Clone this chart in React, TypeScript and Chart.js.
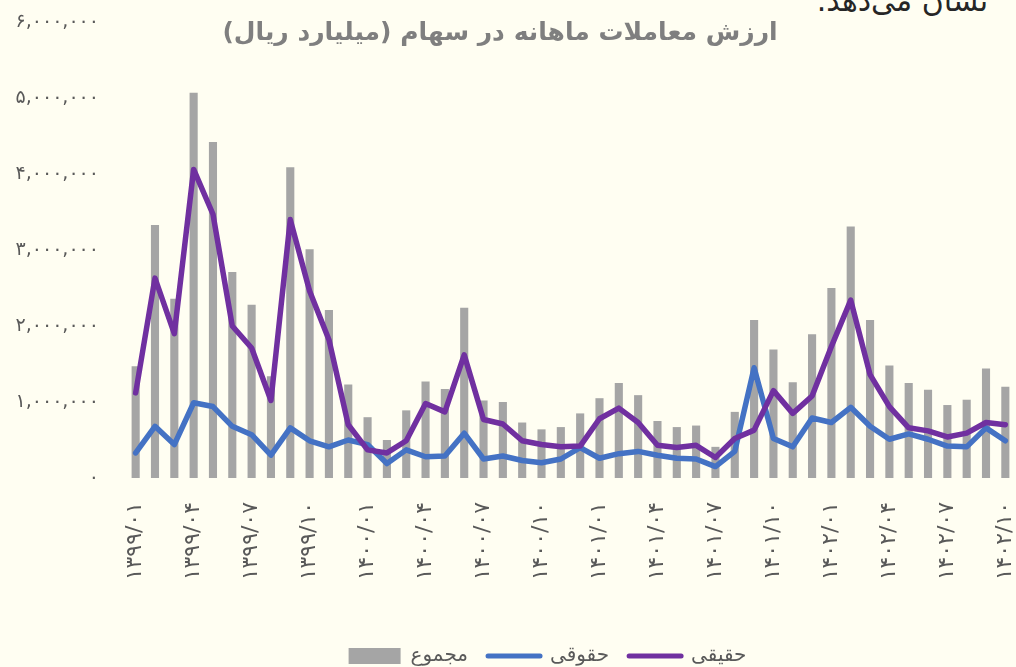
import React, { useEffect, useRef } from "react";
import { Chart, registerables } from "chart.js";

Chart.register(...registerables);

const FONT = '"DejaVu Sans", sans-serif';

const TITLE = "ارزش معاملات ماهانه در سهام (میلیارد ریال)";
const TOP_TEXT = "نشان می‌دهد.";

const months: string[] = [
  "۱۳۹۹/۰۱", "۱۳۹۹/۰۲", "۱۳۹۹/۰۳", "۱۳۹۹/۰۴", "۱۳۹۹/۰۵", "۱۳۹۹/۰۶",
  "۱۳۹۹/۰۷", "۱۳۹۹/۰۸", "۱۳۹۹/۰۹", "۱۳۹۹/۱۰", "۱۳۹۹/۱۱", "۱۳۹۹/۱۲",
  "۱۴۰۰/۰۱", "۱۴۰۰/۰۲", "۱۴۰۰/۰۳", "۱۴۰۰/۰۴", "۱۴۰۰/۰۵", "۱۴۰۰/۰۶",
  "۱۴۰۰/۰۷", "۱۴۰۰/۰۸", "۱۴۰۰/۰۹", "۱۴۰۰/۱۰", "۱۴۰۰/۱۱", "۱۴۰۰/۱۲",
  "۱۴۰۱/۰۱", "۱۴۰۱/۰۲", "۱۴۰۱/۰۳", "۱۴۰۱/۰۴", "۱۴۰۱/۰۵", "۱۴۰۱/۰۶",
  "۱۴۰۱/۰۷", "۱۴۰۱/۰۸", "۱۴۰۱/۰۹", "۱۴۰۱/۱۰", "۱۴۰۱/۱۱", "۱۴۰۱/۱۲",
  "۱۴۰۲/۰۱", "۱۴۰۲/۰۲", "۱۴۰۲/۰۳", "۱۴۰۲/۰۴", "۱۴۰۲/۰۵", "۱۴۰۲/۰۶",
  "۱۴۰۲/۰۷", "۱۴۰۲/۰۸", "۱۴۰۲/۰۹", "۱۴۰۲/۱۰",
];

// مجموع
const totalValues: number[] = [
  1470000, 3330000, 2360000, 5070000, 4420000, 2710000, 2280000, 1340000, 4090000, 3010000,
  2210000, 1230000, 800000, 500000, 890000, 1270000, 1170000, 2240000, 1020000, 1000000,
  730000, 640000, 670000, 850000, 1050000, 1250000, 1090000, 750000, 670000, 690000,
  410000, 870000, 2080000, 1690000, 1260000, 1890000, 2500000, 3310000, 2080000, 1480000,
  1250000, 1160000, 960000, 1030000, 1440000, 1200000,
];

// حقوقی
const legalValues: number[] = [
  330000, 680000, 440000, 990000, 940000, 680000, 570000, 300000, 660000, 490000,
  410000, 500000, 440000, 190000, 370000, 280000, 290000, 590000, 250000, 290000,
  230000, 200000, 250000, 400000, 260000, 320000, 350000, 300000, 260000, 250000,
  150000, 350000, 1450000, 520000, 410000, 790000, 730000, 930000, 680000, 510000,
  580000, 510000, 420000, 410000, 660000, 490000,
];

// حقیقی
const realValues: number[] = [
  1120000, 2630000, 1900000, 4060000, 3470000, 2000000, 1710000, 1020000, 3400000, 2460000,
  1820000, 700000, 370000, 330000, 490000, 980000, 870000, 1620000, 770000, 710000,
  490000, 440000, 410000, 420000, 780000, 920000, 730000, 430000, 400000, 430000,
  270000, 520000, 630000, 1150000, 850000, 1080000, 1730000, 2340000, 1360000, 940000,
  660000, 620000, 540000, 590000, 730000, 700000,
];

const seriesNames = ["مجموع", "حقوقی", "حقیقی"];
const yTickValues: number[] = [0, 1000000, 2000000, 3000000, 4000000, 5000000, 6000000];

const toFa = (s: string) => s.replace(/\d/g, (d) => "۰۱۲۳۴۵۶۷۸۹"[Number(d)]);

const titlePlugin = {
  id: "customTitle",
  afterDraw(chart: any) {
    const ctx = chart.ctx;
    ctx.save();
    ctx.font = `bold 25px ${FONT}`;
    ctx.fillStyle = "#7f7f7f";
    ctx.textAlign = "center";
    ctx.textBaseline = "middle";
    (ctx as any).direction = "rtl";
    ctx.fillText(TITLE, 500, 33);
    ctx.restore();
  },
};

const legendShiftPlugin = {
  id: "legendShift",
  afterLayout(chart: any) {
    const lg = chart.legend;
    if (lg) {
      lg.left += 40;
      lg.right += 40;
    }
  },
};

export default function App() {
  const canvasRef = useRef<HTMLCanvasElement | null>(null);

  useEffect(() => {
    if (!canvasRef.current) return;
    const chart = new Chart(canvasRef.current, {
      type: "bar",
      data: {
        labels: months,
        datasets: [
          {
            type: "bar",
            label: seriesNames[0],
            data: totalValues,
            backgroundColor: "#a5a5a5",
            categoryPercentage: 1,
            barPercentage: 0.42,
            order: 3,
          } as any,
          {
            type: "line",
            label: seriesNames[1],
            data: legalValues,
            borderColor: "#4472c4",
            backgroundColor: "#4472c4",
            borderWidth: 5.5,
            pointRadius: 0,
            tension: 0,
            borderJoinStyle: "round",
            borderCapStyle: "round",
            order: 2,
          } as any,
          {
            type: "line",
            label: seriesNames[2],
            data: realValues,
            borderColor: "#7030a0",
            backgroundColor: "#7030a0",
            borderWidth: 5.5,
            pointRadius: 0,
            tension: 0,
            borderJoinStyle: "round",
            borderCapStyle: "round",
            order: 1,
          } as any,
        ],
      },
      options: {
        animation: false,
        responsive: true,
        maintainAspectRatio: false,
        layout: { padding: { top: 22, right: 1, left: 0, bottom: 0 } },
        plugins: {
          title: { display: false },
          tooltip: { enabled: false },
          legend: {
            position: "bottom",
            labels: {
              usePointStyle: true,
              pointStyleWidth: 52,
              boxHeight: 16,
              padding: 20,
              color: "#595959",
              font: { size: 20, family: FONT },
              sort(a: any, b: any) {
                return a.datasetIndex - b.datasetIndex;
              },
              generateLabels(ch: any) {
                const items = (Chart.defaults.plugins.legend.labels as any).generateLabels(ch);
                return items.map((it: any) => {
                  const ds = ch.data.datasets[it.datasetIndex];
                  if (ds.type === "bar") {
                    return { ...it, pointStyle: "rect", lineWidth: 0, fillStyle: "#a5a5a5", strokeStyle: "#a5a5a5" };
                  }
                  return { ...it, pointStyle: "line", lineWidth: 5, strokeStyle: ds.borderColor, fillStyle: ds.borderColor, lineCap: "round" };
                });
              },
            },
          },
        },
        scales: {
          x: {
            grid: { display: false, drawTicks: false },
            border: { display: false },
            ticks: {
              autoSkip: false,
              minRotation: 90,
              maxRotation: 90,
              padding: 24,
              color: "#595959",
              font: { size: 22, family: FONT },
              callback(_v: any, i: number) {
                return i % 3 === 0 ? months[i] : "";
              },
            },
            afterFit(scale: any) {
              scale.height = 148;
              scale.paddingLeft = 0;
              scale.paddingRight = 0;
            },
          },
          y: {
            min: 0,
            max: 6000000,
            grid: { display: false, drawTicks: false },
            border: { display: false },
            afterBuildTicks(scale: any) {
              scale.ticks = yTickValues.map((v) => ({ value: v }));
            },
            ticks: {
              padding: 27,
              color: "#595959",
              font: { size: 19, family: FONT },
              callback(v: any) {
                return toFa(Number(v).toLocaleString("en-US"));
              },
            },
            afterFit(scale: any) {
              scale.width = 126;
              scale.paddingTop = 0;
              scale.paddingBottom = 0;
            },
          },
        },
      } as any,
      plugins: [titlePlugin, legendShiftPlugin],
    });
    return () => chart.destroy();
  }, []);

  return (
    <div style={{ position: "fixed", left: 0, top: 0, width: 1016, height: 667, background: "#fffef2", overflow: "hidden" }}>
      <div
        style={{
          position: "absolute",
          right: 28,
          top: -16,
          fontFamily: FONT,
          fontSize: 30,
          lineHeight: "34px",
          color: "#262626",
          direction: "rtl",
          whiteSpace: "nowrap",
        }}
      >
        {TOP_TEXT}
      </div>
      <div style={{ position: "absolute", left: 0, top: 0, width: 1016, height: 676 }}>
        <canvas ref={canvasRef} />
      </div>
    </div>
  );
}
